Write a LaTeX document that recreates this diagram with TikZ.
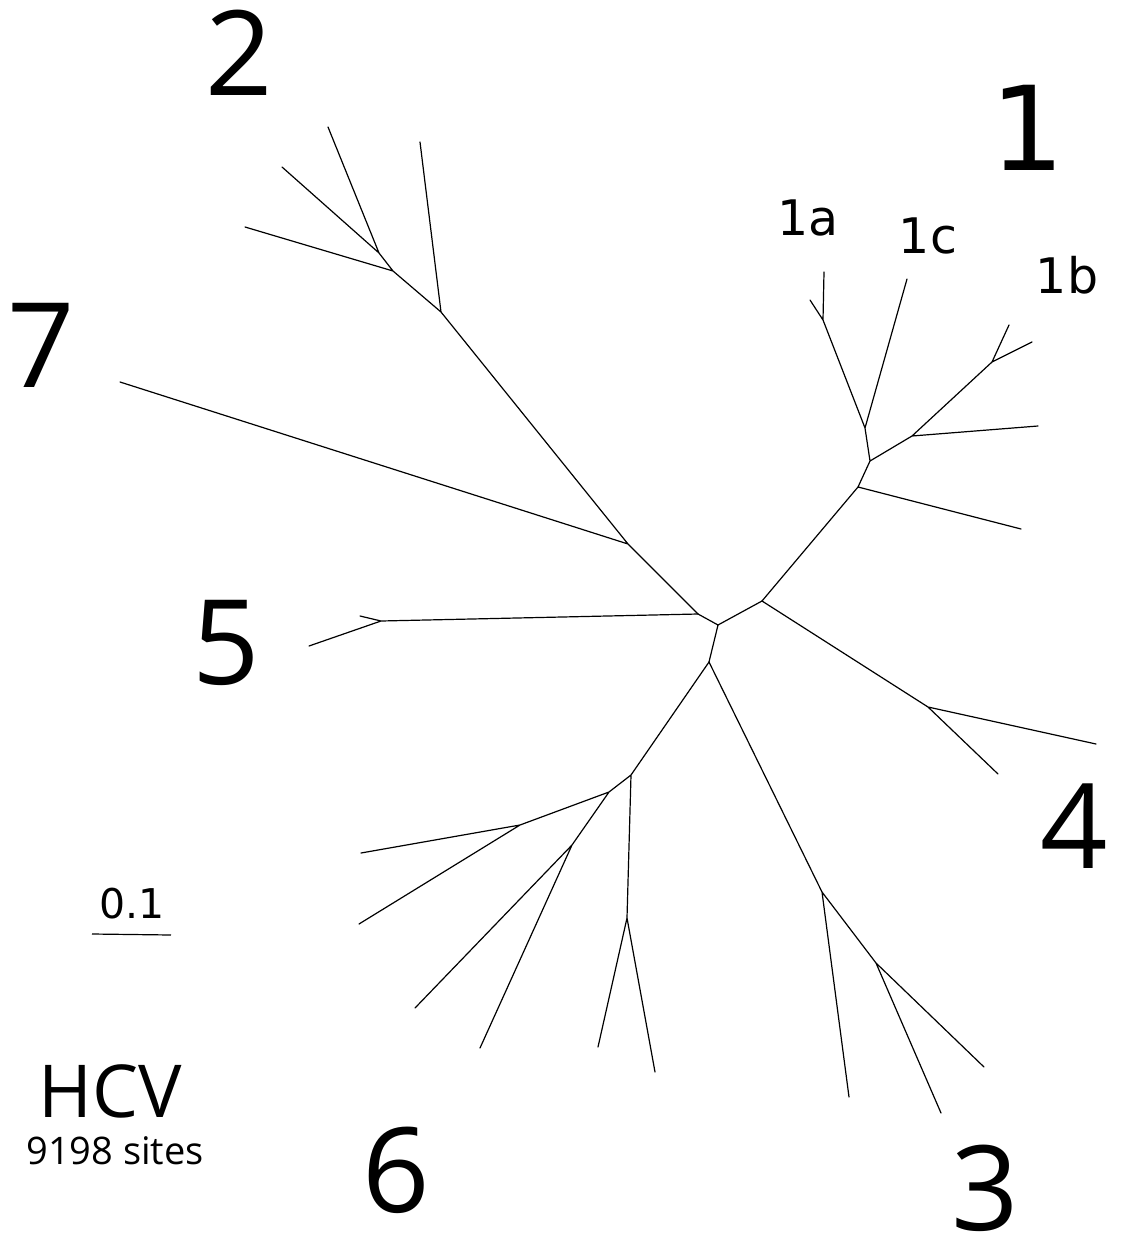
\documentclass[tikz,border=0pt]{standalone}
\usepackage{fontspec}
\setmainfont{Open Sans}
\newfontfamily\dvs{DejaVu Sans}
\begin{document}
\begin{tikzpicture}[x=1pt,y=-1pt,
  br/.style={line width=1.2pt, line cap=round, line join=round},
  lbl/.style={inner sep=0pt, anchor=center},
  big/.style={lbl, font=\fontsize{118}{126}\selectfont},
  bigone/.style={lbl, font=\dvs\fontsize{117}{125}\selectfont},
  sub/.style={lbl, font=\dvs\fontsize{49}{55}\selectfont}]
\useasboundingbox (0,0) rectangle (1128,1255);
% internal nodes
\coordinate (C) at (762,601);
\coordinate (D) at (718,625);
\coordinate (E) at (698,614);
\coordinate (F) at (709,662);
\coordinate (A1) at (858,487);
\coordinate (B1) at (870,461);
\coordinate (AC) at (865,428);
\coordinate (N1a) at (823,320);
\coordinate (NB) at (912,436);
\coordinate (NB2) at (992,362);
\coordinate (G) at (928,707);
\coordinate (K) at (628,544);
\coordinate (H) at (441,312);
\coordinate (I) at (393,271);
\coordinate (J) at (379,253);
\coordinate (N5) at (381,621);
\coordinate (L) at (631,775);
\coordinate (M) at (609,792);
\coordinate (O) at (520,825);
\coordinate (P) at (572,845);
\coordinate (N) at (627,918);
\coordinate (Q) at (822,892);
\coordinate (R) at (876,963);
% leaves
\coordinate (l1a1) at (824,272);
\coordinate (l1a2) at (810,300);
\coordinate (l1c) at (907,279);
\coordinate (l1b1) at (1009,325);
\coordinate (l1b2) at (1032,342);
\coordinate (l1b3) at (1038,426);
\coordinate (l1x) at (1021,529);
\coordinate (l41) at (1096,744);
\coordinate (l42) at (998,774);
\coordinate (l7) at (120,382);
\coordinate (l21) at (420,142);
\coordinate (l22) at (245,227);
\coordinate (l23) at (328,127);
\coordinate (l24) at (282,167);
\coordinate (l51) at (360,616);
\coordinate (l52) at (309,646);
\coordinate (l61) at (361,853);
\coordinate (l62) at (359,924);
\coordinate (l63) at (415,1008);
\coordinate (l64) at (480,1048);
\coordinate (l65) at (598,1047);
\coordinate (l66) at (655,1072);
\coordinate (l31) at (849,1097);
\coordinate (l32) at (941,1113);
\coordinate (l33) at (984,1067);
% branches
\draw[br] (C) -- (D) (D) -- (E) (D) -- (F);
\draw[br] (C) -- (A1) (A1) -- (l1x) (A1) -- (B1) (B1) -- (AC) (AC) -- (N1a)
  (N1a) -- (l1a1) (N1a) -- (l1a2) (AC) -- (l1c) (B1) -- (NB) (NB) -- (l1b3)
  (NB) -- (NB2) (NB2) -- (l1b1) (NB2) -- (l1b2);
\draw[br] (C) -- (G) (G) -- (l41) (G) -- (l42);
\draw[br] (E) -- (K) (K) -- (l7) (K) -- (H) (H) -- (l21) (H) -- (I) (I) -- (l22)
  (I) -- (J) (J) -- (l23) (J) -- (l24);
\draw[br] (E) -- (N5) (N5) -- (l51) (N5) -- (l52);
\draw[br] (F) -- (L) (L) -- (M) (M) -- (O) (O) -- (l61) (O) -- (l62)
  (M) -- (P) (P) -- (l63) (P) -- (l64) (L) -- (N) (N) -- (l65) (N) -- (l66);
\draw[br] (F) -- (Q) (Q) -- (l31) (Q) -- (R) (R) -- (l32) (R) -- (l33);
% scale bar
\coordinate (s1) at (92,934);
\coordinate (s2) at (171,935);
\draw[line width=1.2pt] (s1) -- (s2);
\node[lbl, font=\dvs\fontsize{41}{46}\selectfont] (sc) at (132,904) {0.1};
% labels
\node[big] (t2) at (239,53) {2};
\node[bigone] (t1) at (1028,128) {1};
\node[big] (t7) at (41,345) {7};
\node[big] (t5) at (226,643) {5};
\node[big] (t4) at (1074,826) {4};
\node[big] (t6) at (396,1170) {6};
\node[big] (t3) at (985,1188) {3};
\node[sub] (t1a) at (808,218) {1a};
\node[sub] (t1c) at (928,236) {1c};
\node[sub] (t1b) at (1067,275) {1b};
\node[lbl, font=\fontsize{73}{80}\selectfont] (hcv) at (110,1091) {HCV};
\node[lbl, font=\fontsize{38}{44}\selectfont] (sites) at (115,1151) {9198 sites};
\end{tikzpicture}
\end{document}
